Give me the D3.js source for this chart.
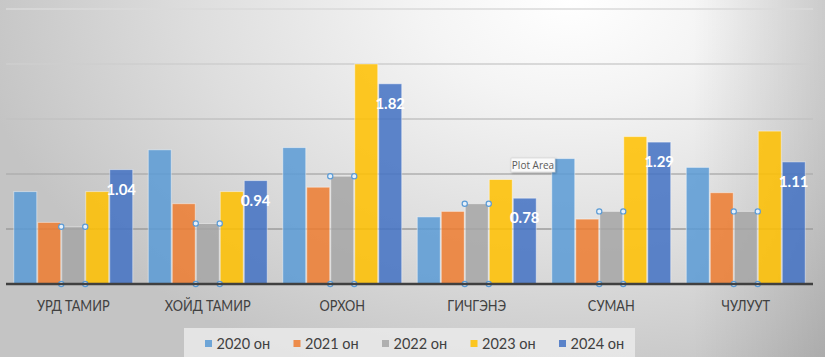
<!DOCTYPE html>
<html><head><meta charset="utf-8">
<script src="https://cdn.jsdelivr.net/npm/d3@7"></script>
<style>
html,body{margin:0;padding:0;}
body{width:825px;height:357px;overflow:hidden;
background:
 linear-gradient(to right, rgba(0,0,0,0) 84%, rgba(0,0,0,0.13) 100%),
 radial-gradient(ellipse 600px 400px at 570px 0px, #ffffff 0%, #f4f4f4 25%, #dedede 62%, #c4c4c4 100%);}
svg{display:block;font-family:Lato,"Open Sans",sans-serif;}
</style></head>
<body>
<svg id="chart" width="825" height="357"></svg>
<script>
const categories = ["УРД ТАМИР","ХОЙД ТАМИР","ОРХОН","ГИЧГЭНЭ","СУМАН","ЧУЛУУТ"];
const seriesNames = ["2020 он","2021 он","2022 он","2023 он","2024 он"];
const v2020 = [0.84,1.22,1.24,0.61,1.14,1.06];
const v2021 = [0.56,0.73,0.88,0.66,0.59,0.83];
const v2022 = [0.52,0.55,0.98,0.73,0.66,0.66];
const v2023 = [0.84,0.84,2.00,0.95,1.34,1.39];
const v2024 = [1.04,0.94,1.82,0.78,1.29,1.11];
const yTicks = [0,0.5,1,1.5,2,2.5];
const colors = ["#5b9bd5","#ed7d31","#a5a5a5","#ffc000","#4472c4"];

const seriesValues = [v2020,v2021,v2022,v2023,v2024];
const svg = d3.select("#chart");
const defs = svg.append("defs");
const gg = defs.append("linearGradient").attr("id","gridGrad")
  .attr("gradientUnits","userSpaceOnUse").attr("x1",0).attr("x2",0).attr("y1",9).attr("y2",229);
gg.append("stop").attr("offset",0).attr("stop-color","#dadada");
gg.append("stop").attr("offset",0.5).attr("stop-color","#c2c2c2");
gg.append("stop").attr("offset",1).attr("stop-color","#9c9c9c");
const sh = defs.append("filter").attr("id","shadow").attr("x","-20%").attr("y","-30%").attr("width","150%").attr("height","180%");
sh.append("feDropShadow").attr("dx",1).attr("dy",1).attr("stdDeviation",1).attr("flood-opacity",0.3);

const x0 = d3.scaleBand().domain(categories).range([6,813]).paddingInner(0.108).paddingOuter(0.054);
const x1 = d3.scaleBand().domain(seriesNames).range([0,x0.bandwidth()]).padding(0);
const y = d3.scaleLinear().domain([0,2.5]).range([284,9]);

// gridlines
svg.append("g").selectAll("line").data(yTicks.filter(t=>t>0)).join("line")
  .attr("x1",6).attr("x2",813)
  .attr("y1",d=>y(d)).attr("y2",d=>y(d))
  .attr("stroke","url(#gridGrad)").attr("stroke-width",1.6);

// bars
const groups = svg.append("g").selectAll("g").data(categories).join("g")
  .attr("transform",c=>`translate(${x0(c)},0)`);
groups.selectAll("rect").data((c,ci)=>seriesNames.map((s,si)=>({s,si,v:seriesValues[si][ci]})))
  .join("rect")
  .attr("x",d=>x1(d.s)+0.5).attr("width",x1.bandwidth()-1)
  .attr("y",d=>y(d.v)).attr("height",d=>y(0)-y(d.v))
  .attr("fill",d=>colors[d.si]).attr("fill-opacity",0.86)
  .attr("stroke","#ffffff").attr("stroke-opacity",0.45).attr("stroke-width",1);

// baseline axis
const xAxis = d3.axisBottom(x0).tickSize(0).tickPadding(0);
const ax = svg.append("g").attr("transform","translate(0,284)").call(xAxis);
ax.select(".domain").attr("stroke","#404040").attr("stroke-width",2.5).attr("d","M6,0H813");
ax.selectAll(".tick text").attr("y",27.5).attr("dy",0).attr("font-size",16)
  .attr("transform","scale(0.8,1)")
  .attr("fill","#404040").attr("font-family","Lato,'Open Sans',sans-serif");

// data labels for 2024
groups.append("text")
  .attr("x",x1("2024 он")+x1.bandwidth()/2)
  .attr("y",(c,ci)=>y(v2024[ci])+25)
  .attr("text-anchor","middle").attr("font-size",15).attr("font-weight","bold")
  .attr("fill","#ffffff")
  .text((c,ci)=>v2024[ci].toFixed(2));

// selection handles on 2022 series
groups.each(function(c,ci){
  const g = d3.select(this);
  const xl = x1("2022 он"), xr = xl + x1.bandwidth();
  const pts = [[xl,y(v2022[ci])],[xr,y(v2022[ci])],[xl,y(0)],[xr,y(0)]];
  g.selectAll("circle").data(pts).join("circle")
    .attr("cx",p=>p[0]).attr("cy",p=>p[1]).attr("r",2.6)
    .attr("fill","#e8f1fa").attr("stroke","#5b9bd5").attr("stroke-width",1.2);
});

// "Plot Area" tooltip
const tip = svg.append("g").attr("transform","translate(511,158)");
tip.append("rect").attr("width",44).attr("height",14).attr("fill","#fafafa")
  .attr("stroke","#d0d0d0").attr("stroke-width",0.6).attr("filter","url(#shadow)");
tip.append("text").attr("x",22).attr("y",10.5).attr("text-anchor","middle")
  .attr("font-size",10).attr("fill","#5a5a5a").attr("font-family","'Open Sans',sans-serif").text("Plot Area");

// legend
const lg = svg.append("g");
lg.append("rect").attr("x",184).attr("y",328).attr("width",451).attr("height",30)
  .attr("fill","#eaeaea").attr("fill-opacity",0.85);
const items = lg.selectAll("g").data(seriesNames).join("g")
  .attr("transform",(d,i)=>`translate(${205+i*88.5},0)`);
items.append("rect").attr("x",0).attr("y",340).attr("width",7).attr("height",7)
  .attr("fill",(d,i)=>colors[i]).attr("fill-opacity",0.86);
items.append("text").attr("x",11.5).attr("y",348.5).attr("font-size",14.5)
  .attr("fill","#404040").text(d=>d);
</script>
</body></html>
